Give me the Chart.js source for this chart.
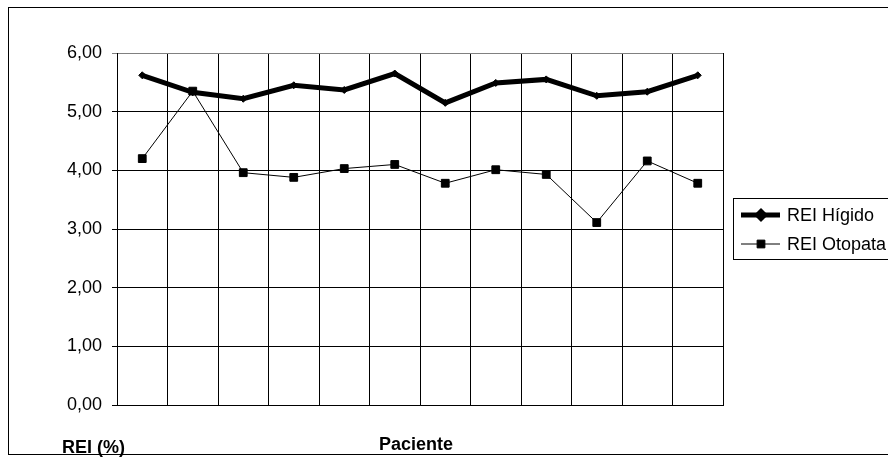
<!DOCTYPE html>
<html>
<head>
<meta charset="utf-8">
<title>REI (%) por paciente</title>
<script src="https://cdn.jsdelivr.net/npm/chart.js@4/dist/chart.umd.min.js"></script>
<style>
    html, body { margin: 0; padding: 0; background: #fff; }
    #wrap { width: 888px; height: 460px; }
</style>
</head>
<body>
<div id="wrap"><canvas id="rei-chart" width="888" height="460"></canvas></div>
<script>
// Data
const pacientes = ['1', '2', '3', '4', '5', '6', '7', '8', '9', '10', '11', '12'];
const reiHigido = [5.62, 5.33, 5.22, 5.45, 5.37, 5.65, 5.15, 5.49, 5.55, 5.27, 5.34, 5.62];
const reiOtopata = [4.20, 5.35, 3.96, 3.88, 4.03, 4.10, 3.78, 4.01, 3.93, 3.11, 4.16, 3.78];
const yTicks = [0, 1, 2, 3, 4, 5, 6];

const FONT = '"Liberation Sans", Arial, sans-serif';

// Outer frame, axis titles and the boxed legend on the right
const decorations = {
    id: 'decorations',
    beforeDraw(chart) {
        const ctx = chart.ctx;
        ctx.save();
        ctx.fillStyle = '#fff';
        ctx.fillRect(0, 0, chart.width, chart.height);
        ctx.strokeStyle = '#000';
        ctx.lineWidth = 1;
        ctx.strokeRect(8.5, 7.5, 900, 447);
        ctx.restore();
    },
    afterDraw(chart) {
        const ctx = chart.ctx;
        ctx.save();
        ctx.fillStyle = '#000';
        ctx.font = 'bold 18px ' + FONT;
        ctx.textBaseline = 'middle';
        ctx.textAlign = 'left';
        ctx.fillText('REI (%)', 62, 448);
        ctx.textAlign = 'center';
        ctx.fillText('Paciente', 416, 445);

        // legend
        ctx.strokeStyle = '#000';
        ctx.lineWidth = 1;
        ctx.strokeRect(733.5, 198.5, 200, 61);
        const rows = [215, 244];
        chart.data.datasets.forEach((ds, i) => {
            const y = rows[i];
            ctx.strokeStyle = ds.borderColor;
            ctx.lineWidth = ds.borderWidth;
            ctx.beginPath();
            ctx.moveTo(741, y);
            ctx.lineTo(780, y);
            ctx.stroke();
            Chart.helpers.drawPoint(ctx, {
                pointStyle: ds.pointStyle,
                radius: ds.pointRadius,
                borderWidth: 1
            }, 761, y);
            ctx.fillStyle = '#000';
            ctx.font = '18px ' + FONT;
            ctx.textAlign = 'left';
            ctx.textBaseline = 'middle';
            ctx.fillText(ds.label, 787, y + 1);
        });
        ctx.restore();
    }
};

const cfg = {
    type: 'line',
    data: {
        labels: pacientes,
        datasets: [{
            label: 'REI Hígido',
            data: reiHigido,
            borderColor: '#000',
            backgroundColor: '#000',
            borderWidth: 5,
            pointStyle: 'rectRot',
            pointRadius: 3.5,
            pointBorderWidth: 1,
            tension: 0,
            order: 1
        }, {
            label: 'REI Otopata',
            data: reiOtopata,
            borderColor: '#000',
            backgroundColor: '#000',
            borderWidth: 1,
            pointStyle: 'rect',
            pointRadius: 5.5,
            pointBorderWidth: 1,
            tension: 0,
            order: 0
        }]
    },
    options: {
        responsive: false,
        animation: false,
        devicePixelRatio: 1,
        layout: { padding: { left: 0, top: 53, right: 165, bottom: 55 } },
        plugins: {
            legend: { display: false },
            tooltip: { enabled: false }
        },
        scales: {
            x: {
                offset: true,
                grid: {
                    offset: true,
                    drawTicks: false,
                    color: ctx => ctx.index === pacientes.length ? '#808080' : '#000',
                    lineWidth: 1
                },
                border: { color: '#000' },
                ticks: { display: false },
                afterFit: scale => { scale.height = 0; }
            },
            y: {
                min: 0,
                max: 6,
                afterBuildTicks: scale => { scale.ticks = yTicks.map(v => ({ value: v })); },
                grid: {
                    color: ctx => ctx.tick && ctx.tick.value === 6 ? '#808080' : '#000',
                    tickLength: 5,
                    lineWidth: 1
                },
                border: { color: '#000' },
                ticks: {
                    color: '#000',
                    padding: 10,
                    font: { family: FONT, size: 18 },
                    callback: v => v.toFixed(2).replace('.', ',')
                },
                afterFit: scale => { scale.width = 117; }
            }
        }
    },
    plugins: [decorations]
};

new Chart(document.getElementById('rei-chart'), cfg);
</script>
</body>
</html>
